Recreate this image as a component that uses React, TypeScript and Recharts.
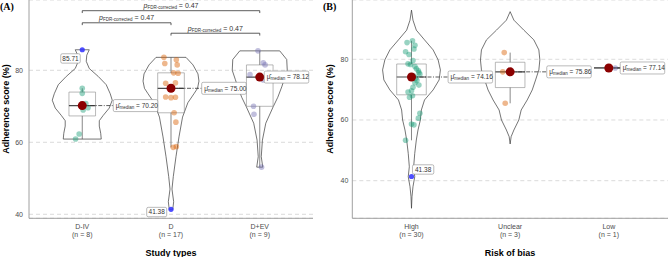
import React from "react";
import { CartesianGrid, ComposedChart, Scatter, XAxis, YAxis } from "recharts";

// ---- panel A: study types ----
const studyTypes = ["D-IV", "D", "D+EV"];
const scoresDIV = [85.71, 75.0, 73.6, 70.8, 69.6, 69.0, 62.3, 60.9];
const jitterDIV = [0, 0, 0, 0.04, 0.065, 0.01, -0.035, -0.075];
const scoresD = [83.6, 82.9, 81.9, 81.5, 79.3, 79.2, 76.5, 76.4, 75.0, 72.6, 72.5, 72.4, 68.2, 65.6, 58.8, 58.6, 41.38];
const jitterD = [-0.08, 0.06, -0.07, 0.07, 0.03, 0.08, 0.05, -0.06, 0, -0.06, 0.05, 0, 0.035, 0.055, 0.06, 0.025, 0];
const scoresDEV = [85.4, 82.1, 81.5, 78.8, 78.12, 77.3, 70.0, 67.8, 53.1];
const jitterDEV = [-0.02, 0.04, 0.06, -0.11, 0, 0.04, -0.07, -0.065, 0.02];

// violin outlines: score level -> half width (x units)
const violinDIVLevels = [85.71, 84.2, 82.5, 80.5, 78.3, 76.0, 73.5, 71.7, 69.5, 67.5, 66.0, 64.5, 62.5, 60.9];
const violinDIVWidths = [0.079, 0.051, 0.045, 0.079, 0.18, 0.27, 0.315, 0.338, 0.304, 0.237, 0.192, 0.192, 0.208, 0.214];
const violinDLevels = [83.6, 81.5, 79.0, 77.0, 75.0, 73.5, 71.0, 67.0, 61.5, 56.0, 50.5, 47.0, 43.5, 41.38];
const violinDWidths = [0.169, 0.248, 0.304, 0.315, 0.299, 0.259, 0.19, 0.13, 0.09, 0.056, 0.026, 0.011, 0.03, 0.02];
const violinDEVLevels = [85.4, 83.0, 80.0, 77.5, 75.4, 72.5, 69.9, 65.3, 60.6, 56.0, 53.1];
const violinDEVWidths = [0.225, 0.304, 0.31, 0.276, 0.248, 0.203, 0.152, 0.068, 0.03, 0.017, 0.034];

const comparisonPairs = [[1, 3], [1, 2], [2, 3]];
const comparisonP = [0.47, 0.47, 0.47];

// ---- panel B: risk of bias ----
const riskOfBias = ["High", "Unclear", "Low"];
const scoresHigh = [86.1, 85.5, 84.6, 83.4, 82.5, 81.6, 79.6, 78.5, 78.3, 77.6, 76.9, 76.2, 75.6, 75.1, 74.5, 73.82, 73.0, 72.3, 71.5, 70.8, 69.6, 69.2, 68.0, 67.5, 62.2, 60.6, 58.7, 58.4, 53.3, 41.38];
const jitterHigh = [0.01, -0.045, 0.035, 0.025, -0.06, -0.025, 0.015, -0.035, -0.01, 0.035, 0.05, 0.07, 0.075, 0.085, 0.025, 0.045, 0.055, 0.035, 0.075, 0.015, 0, -0.035, 0.01, -0.02, 0.085, 0.07, 0, 0.025, -0.06, 0];
const scoresUnclear = [82.2, 75.86, 65.5];
const jitterUnclear = [-0.06, -0.075, -0.05];
const scoresLow = [77.14];
const jitterLow = [0.065];

const violinHighLevels = [96.2, 92.9, 89.6, 86.4, 83.1, 79.8, 76.5, 73.2, 69.9, 66.6, 63.3, 60.0, 56.7, 53.4, 49.0, 44.6, 41.3, 38.0, 34.7, 30.9];
const violinHighWidths = [0, 0.015, 0.049, 0.132, 0.219, 0.27, 0.293, 0.28, 0.219, 0.132, 0.1, 0.09, 0.066, 0.049, 0.033, 0.022, 0.033, 0.015, 0.005, 0];
const violinUnclearLevels = [95.7, 92.9, 89.6, 86.4, 83.1, 79.8, 76.5, 73.2, 69.9, 66.6, 63.3, 60.0, 56.7, 54.5, 52.1];
const violinUnclearWidths = [0, 0.038, 0.139, 0.24, 0.291, 0.301, 0.291, 0.258, 0.224, 0.173, 0.112, 0.088, 0.038, 0.01, 0];

const palette = ["#1B9E77", "#D95F02", "#7570B3"];
const FONT = "'Liberation Sans', Arial, Helvetica, sans-serif";
const TEXT = "#333333";

type Group = { name: string; scores: number[]; jitter: number[]; levels?: number[]; widths?: number[] };

const groupsA: Group[] = [
  { name: studyTypes[0], scores: scoresDIV, jitter: jitterDIV, levels: violinDIVLevels, widths: violinDIVWidths },
  { name: studyTypes[1], scores: scoresD, jitter: jitterD, levels: violinDLevels, widths: violinDWidths },
  { name: studyTypes[2], scores: scoresDEV, jitter: jitterDEV, levels: violinDEVLevels, widths: violinDEVWidths },
];
const groupsB: Group[] = [
  { name: riskOfBias[0], scores: scoresHigh, jitter: jitterHigh, levels: violinHighLevels, widths: violinHighWidths },
  { name: riskOfBias[1], scores: scoresUnclear, jitter: jitterUnclear, levels: violinUnclearLevels, widths: violinUnclearWidths },
  { name: riskOfBias[2], scores: scoresLow, jitter: jitterLow },
];

function quantile(sorted: number[], q: number) {
  const pos = (sorted.length - 1) * q;
  const lo = Math.floor(pos);
  const hi = Math.ceil(pos);
  return sorted[lo] + (sorted[hi] - sorted[lo]) * (pos - lo);
}

function boxStats(values: number[]) {
  const s = [...values].sort((a, b) => a - b);
  const q1 = quantile(s, 0.25);
  const med = quantile(s, 0.5);
  const q3 = quantile(s, 0.75);
  const iqr = q3 - q1;
  const isOut = (v: number) => v < q1 - 1.5 * iqr || v > q3 + 1.5 * iqr;
  const inside = s.filter((v) => !isOut(v));
  return { q1, med, q3, lo: inside[0], hi: inside[inside.length - 1], isOut };
}

function violinOutline(pos: number, levels: number[], widths: number[]) {
  const left = levels.map((v, i) => ({ x: pos - widths[i], y: v }));
  const right = levels.map((v, i) => ({ x: pos + widths[i], y: v })).reverse();
  return [...left, ...right, left[0]];
}

const noShape = () => <g />;

function seg(key: string, pts: { x: number; y: number }[], stroke: string, width: number, dash?: string) {
  return (
    <Scatter
      key={key}
      data={pts}
      line={{ stroke, strokeWidth: width, strokeDasharray: dash }}
      lineType="joint"
      shape={noShape}
      isAnimationActive={false}
    />
  );
}

type OutlierBox = { ox: number; oy: number; w: number } | null;

type PanelProps = {
  groups: Group[];
  domain: [number, number];
  left: number;
  width: number;
  yAxisWidth: number;
  marginRight: number;
  tickMargin: number;
  medianDx: number[];
  outlierBoxes: OutlierBox[];
  brackets?: boolean;
};

function Panel({ groups, domain, left, width, yAxisWidth, marginRight, tickMargin, medianDx, outlierBoxes, brackets }: PanelProps) {
  const stats = groups.map((g) => boxStats(g.scores));
  const layers: React.ReactNode[] = [];

  // violins
  groups.forEach((g, i) => {
    if (g.levels && g.widths) layers.push(seg(`v${i}`, violinOutline(i + 1, g.levels, g.widths), "#3a3a3a", 0.7));
  });

  // boxplots
  groups.forEach((g, i) => {
    const p = i + 1;
    const s = stats[i];
    const hw = 0.15;
    layers.push(
      seg(`b${i}`, [
        { x: p - hw, y: s.q1 }, { x: p + hw, y: s.q1 }, { x: p + hw, y: s.q3 }, { x: p - hw, y: s.q3 }, { x: p - hw, y: s.q1 },
      ], "#8a8a8a", 0.6),
      seg(`wu${i}`, [{ x: p, y: s.q3 }, { x: p, y: s.hi }], "#555", 0.7),
      seg(`wl${i}`, [{ x: p, y: s.q1 }, { x: p, y: s.lo }], "#555", 0.7),
      seg(`m${i}`, [{ x: p - hw, y: s.med }, { x: p + hw, y: s.med }], "#4a4a4a", 1.2),
    );
  });

  // jittered points
  groups.forEach((g, i) => {
    const s = stats[i];
    const pts = g.scores.map((v, k) => ({ x: i + 1 + g.jitter[k], y: v, out: s.isOut(v) }));
    layers.push(
      <Scatter
        key={`p${i}`}
        data={pts}
        isAnimationActive={false}
        shape={(pr: any) =>
          pr.payload.out ? (
            <circle cx={pr.cx} cy={pr.cy} r={2.6} fill="#3030ff" fillOpacity={0.85} />
          ) : (
            <circle cx={pr.cx} cy={pr.cy} r={2.8} fill={palette[i]} fillOpacity={0.45} />
          )
        }
      />,
    );
  });

  // dash-dot leader to median label, then the median dot
  groups.forEach((g, i) => {
    const s = stats[i];
    layers.push(
      <Scatter
        key={`ld${i}`}
        data={[{ x: i + 1, y: s.med }]}
        isAnimationActive={false}
        shape={(pr: any) => (
          <line x1={pr.cx} y1={pr.cy} x2={pr.cx + medianDx[i]} y2={pr.cy} stroke="#333" strokeWidth={0.8} strokeDasharray="4 1.5 1 1.5" />
        )}
      />,
    );
  });
  groups.forEach((g, i) => {
    layers.push(
      <Scatter
        key={`md${i}`}
        data={[{ x: i + 1, y: stats[i].med }]}
        isAnimationActive={false}
        shape={(pr: any) => <circle cx={pr.cx} cy={pr.cy} r={4.5} fill="#8B0000" />}
      />,
    );
  });

  // median labels
  groups.forEach((g, i) => {
    const s = stats[i];
    layers.push(
      <Scatter
        key={`ml${i}`}
        data={[{ x: i + 1, y: s.med }]}
        isAnimationActive={false}
        shape={(pr: any) => {
          const x0 = pr.cx + medianDx[i];
          return (
            <g>
              <rect x={x0} y={pr.cy - 6} width={44.5} height={12} rx={1.5} fill="#fff" stroke="#8c8c8c" strokeWidth={0.6} />
              <text x={x0 + 2.5} y={pr.cy + 2.2} fontSize={6.5} fill={TEXT} fontFamily={FONT}>
                <tspan>{"\u03bc\u0302"}</tspan>
                <tspan fontSize={4.5} dy={1.2}>median</tspan>
                <tspan dy={-1.2}>{` = ${s.med.toFixed(2)}`}</tspan>
              </text>
            </g>
          );
        }}
      />,
    );
  });

  // outlier labels
  groups.forEach((g, i) => {
    const box = outlierBoxes[i];
    if (!box) return;
    const outs = g.scores.map((v, k) => ({ x: i + 1 + g.jitter[k], y: v })).filter((d) => stats[i].isOut(d.y));
    layers.push(
      <Scatter
        key={`ol${i}`}
        data={outs}
        isAnimationActive={false}
        shape={(pr: any) => (
          <g>
            <rect x={pr.cx + box.ox} y={pr.cy + box.oy} width={box.w} height={9.4} rx={1.5} fill="#fff" stroke="#8c8c8c" strokeWidth={0.6} />
            <text x={pr.cx + box.ox + box.w / 2} y={pr.cy + box.oy + 7} textAnchor="middle" fontSize={6.5} fill={TEXT} fontFamily={FONT}>
              {pr.payload.y.toFixed(2)}
            </text>
          </g>
        )}
      />,
    );
  });

  // pairwise comparison brackets
  if (brackets) {
    const bracketLevels = [96.56, 93.2, 90.3];
    const tip = 0.65;
    comparisonPairs.forEach(([a, b], k) => {
      const lv = bracketLevels[k];
      layers.push(
        seg(`br${k}`, [{ x: a, y: lv - tip }, { x: a, y: lv }, { x: b, y: lv }, { x: b, y: lv - tip }], "#333", 0.8),
        <Scatter
          key={`bl${k}`}
          data={[{ x: (a + b) / 2, y: lv }]}
          isAnimationActive={false}
          shape={(pr: any) => (
            <text x={pr.cx} y={pr.cy - 2.5} textAnchor="middle" fontSize={7} fill={TEXT} fontFamily={FONT}>
              <tspan fontStyle="italic">p</tspan>
              <tspan fontSize={4.5} dy={1.2}>FDR-corrected</tspan>
              <tspan dy={-1.2}>{` = ${comparisonP[k].toFixed(2)}`}</tspan>
            </text>
          )}
        />,
      );
    });
  }

  const renderTick = (props: any) => {
    const { x, y, payload } = props;
    const g = groups[payload.value - 1];
    if (!g) return <g />;
    return (
      <g>
        <text x={x} y={y + 10.5} textAnchor="middle" fontSize={7} fill="#4d4d4d" fontFamily={FONT}>
          {g.name}
        </text>
        <text x={x} y={y + 18.5} textAnchor="middle" fontSize={7} fill="#4d4d4d" fontFamily={FONT}>
          {`(n = ${g.scores.length})`}
        </text>
      </g>
    );
  };

  return (
    <div style={{ position: "absolute", left, top: 0 }}>
      <ComposedChart width={width} height={257} margin={{ top: 0, right: marginRight, bottom: 0, left: 0 }}>
        <CartesianGrid vertical={false} stroke="#cccccc" strokeDasharray="4 3" strokeWidth={0.7} />
        <XAxis
          type="number"
          dataKey="x"
          domain={[0.4, 3.6]}
          allowDataOverflow
          ticks={[1, 2, 3]}
          interval={0}
          tickLine={false}
          tickSize={0}
          tickMargin={0}
          axisLine={{ stroke: "#a0a0a0" }}
          height={38.7}
          tick={renderTick}
        />
        <YAxis
          type="number"
          dataKey="y"
          domain={domain}
          allowDataOverflow
          ticks={[40, 60, 80]}
          interval={0}
          tickLine={false}
          tickSize={0}
          tickMargin={tickMargin}
          width={yAxisWidth}
          axisLine={{ stroke: "#a0a0a0" }}
          tick={{ fontSize: 7, fill: "#4d4d4d", fontFamily: FONT }}
        />
        {layers}
      </ComposedChart>
    </div>
  );
}

export default function App() {
  return (
    <div style={{ position: "absolute", left: 0, top: 0, width: 669, height: 257, background: "#fff", overflow: "hidden" }}>
      <Panel
        groups={groupsA}
        domain={[38.89, 99.53]}
        left={0}
        width={325}
        yAxisWidth={29}
        marginRight={12}
        tickMargin={6}
        medianDx={[31, 30.7, 4.5]}
        outlierBoxes={[{ ox: -21.5, oy: 4, w: 19.5 }, { ox: -24.3, oy: -2, w: 20 }, null]}
        brackets
      />
      <Panel
        groups={groupsB}
        domain={[27.6, 99.54]}
        left={323}
        width={346}
        yAxisWidth={29.3}
        marginRight={1}
        tickMargin={4}
        medianDx={[36.6, 36.6, 11.4]}
        outlierBoxes={[{ ox: 1, oy: -11.7, w: 21.3 }, null, null]}
      />
      <svg width={669} height={257} style={{ position: "absolute", left: 0, top: 0, pointerEvents: "none" }}>
        <text x={0} y={9.5} fontFamily="'Liberation Serif', 'Times New Roman', serif" fontWeight="bold" fontSize={10} fill="#000">(A)</text>
        <text x={323} y={9.5} fontFamily="'Liberation Serif', 'Times New Roman', serif" fontWeight="bold" fontSize={10} fill="#000">(B)</text>
        <text transform="translate(8.5,109) rotate(-90)" textAnchor="middle" fontFamily={FONT} fontWeight="bold" fontSize={9} fill="#000">Adherence score (%)</text>
        <text transform="translate(333,109) rotate(-90)" textAnchor="middle" fontFamily={FONT} fontWeight="bold" fontSize={9} fill="#000">Adherence score (%)</text>
        <text x={171} y={255.5} textAnchor="middle" fontFamily={FONT} fontWeight="bold" fontSize={9} fill="#000">Study types</text>
        <text x={510} y={255.5} textAnchor="middle" fontFamily={FONT} fontWeight="bold" fontSize={9} fill="#000">Risk of bias</text>
      </svg>
    </div>
  );
}
